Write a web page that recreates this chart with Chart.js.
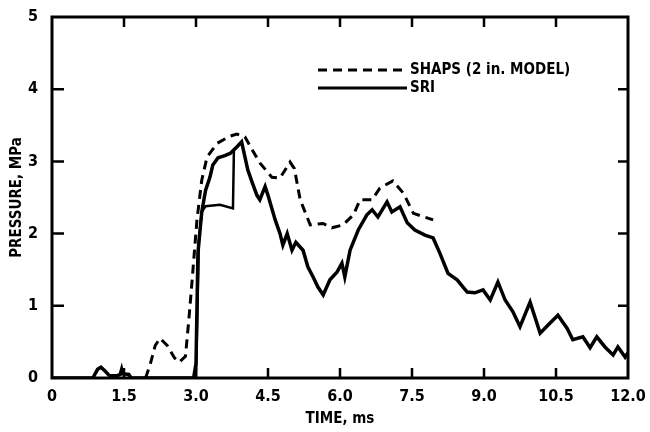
<!DOCTYPE html>
<html lang="en">
<head>
  <meta charset="UTF-8" />
  <title>Pressure vs Time</title>
  <script src="https://cdn.jsdelivr.net/npm/chart.js"></script>
  <style>
    html, body { margin: 0; padding: 0; background: #fff; }
    #wrap { width: 650px; height: 432px; position: relative; }
  </style>
</head>
<body>
  <div id="wrap"><canvas id="chart"></canvas></div>

  <script>
    // x ticks (ms) and y ticks (MPa)
    const timeTicks = [0, 1.5, 3.0, 4.5, 6.0, 7.5, 9.0, 10.5, 12.0];
    const pressureTicks = [0, 1, 2, 3, 4, 5];

    // SHAPS (2 in. model) - dashed
    const shapsTime = [1.95, 2.05, 2.15, 2.25, 2.4, 2.55, 2.65, 2.78, 2.85, 2.92, 3.02, 3.12, 3.23, 3.44, 3.71, 3.85, 4.02, 4.17, 4.33, 4.58, 4.75, 4.96, 5.05, 5.17, 5.38, 5.65, 5.83, 6.06, 6.28, 6.42, 6.67, 6.83, 7.1, 7.32, 7.53, 7.94];
    const shapsPressure = [0, 0.2, 0.45, 0.55, 0.45, 0.28, 0.22, 0.3, 0.8, 1.36, 2.19, 2.74, 3.06, 3.25, 3.35, 3.38, 3.34, 3.16, 2.98, 2.78, 2.77, 2.99, 2.9, 2.47, 2.12, 2.14, 2.08, 2.12, 2.26, 2.47, 2.47, 2.63, 2.73, 2.56, 2.28, 2.19];

    // SRI - solid
    const sriTime = [0, 0.85, 0.95, 1.02, 1.1, 1.2, 1.35, 1.42, 1.45, 1.47, 1.6, 1.65, 2.95, 3.0, 3.04, 3.12, 3.2, 3.29, 3.35, 3.46, 3.6, 3.71, 3.85, 3.95, 4.08, 4.17, 4.27, 4.33, 4.44, 4.5, 4.65, 4.75, 4.81, 4.9, 5.0, 5.08, 5.23, 5.33, 5.44, 5.54, 5.65, 5.79, 5.94, 6.04, 6.1, 6.21, 6.38, 6.56, 6.67, 6.79, 6.98, 7.08, 7.25, 7.4, 7.56, 7.77, 7.94, 8.08, 8.25, 8.44, 8.65, 8.81, 8.98, 9.13, 9.29, 9.44, 9.6, 9.75, 9.96, 10.17, 10.33, 10.54, 10.73, 10.85, 11.06, 11.21, 11.35, 11.52, 11.69, 11.79, 11.94, 12.0];
    const sriPressure = [0, 0, 0.12, 0.15, 0.1, 0.03, 0.03, 0.05, 0.12, 0.06, 0.05, 0, 0, 0.2, 1.73, 2.3, 2.6, 2.78, 2.95, 3.05, 3.08, 3.11, 3.2, 3.27, 2.88, 2.71, 2.53, 2.47, 2.65, 2.53, 2.19, 2.0, 1.84, 2.0, 1.77, 1.88, 1.77, 1.54, 1.4, 1.26, 1.15, 1.36, 1.47, 1.59, 1.4, 1.77, 2.05, 2.26, 2.33, 2.23, 2.44, 2.3, 2.37, 2.15, 2.05, 1.98, 1.94, 1.73, 1.45, 1.36, 1.19, 1.18, 1.22, 1.08, 1.33, 1.08, 0.92, 0.71, 1.05, 0.62, 0.73, 0.87, 0.69, 0.53, 0.57, 0.42, 0.57, 0.43, 0.32, 0.43, 0.29, 0.35];

    // second SRI trace (lower branch near the rise)
    const sri2Time = [3.0, 3.06, 3.12, 3.2, 3.5, 3.77, 3.79, 3.95];
    const sri2Pressure = [0, 1.9, 2.3, 2.38, 2.4, 2.35, 3.16, 3.27];

    const toPoints = (xs, ys) => xs.map((x, i) => ({ x: x, y: ys[i] }));

    const FONT = '"DejaVu Sans Condensed", "DejaVu Sans", sans-serif';

    // box + inward ticks
    const framePlugin = {
      id: 'frame',
      afterDatasetsDraw(chart) {
        const { ctx, chartArea: a, scales } = chart;
        ctx.save();
        ctx.strokeStyle = '#000';
        ctx.lineWidth = 3;
        ctx.strokeRect(a.left, a.top, a.right - a.left, a.bottom - a.top);
        ctx.lineWidth = 2.5;
        ctx.beginPath();
        timeTicks.slice(1, -1).forEach(t => {
          const x = scales.x.getPixelForValue(t);
          ctx.moveTo(x, a.bottom); ctx.lineTo(x, a.bottom - 10);
          ctx.moveTo(x, a.top); ctx.lineTo(x, a.top + 10);
        });
        pressureTicks.slice(1, -1).forEach(p => {
          const y = scales.y.getPixelForValue(p);
          ctx.moveTo(a.left, y); ctx.lineTo(a.left + 12, y);
          ctx.moveTo(a.right, y); ctx.lineTo(a.right - 10, y);
        });
        ctx.stroke();

        // legend
        const items = chart.data.datasets.filter(d => !d.hideLegend);
        const x0 = a.left + 266, x1 = a.left + 355;
        ctx.font = 'bold 15px ' + FONT;
        ctx.fillStyle = '#000';
        ctx.textBaseline = 'middle';
        items.forEach((d, i) => {
          const y = a.top + 53 + i * 18;
          ctx.lineWidth = 3;
          ctx.setLineDash(d.borderDash || []);
          ctx.beginPath();
          ctx.moveTo(x0, y); ctx.lineTo(x1, y);
          ctx.stroke();
          ctx.setLineDash([]);
          ctx.fillText(d.label, x1 + 3, y);
        });
        ctx.restore();
      }
    };

    new Chart(document.getElementById('chart'), {
      type: 'scatter',
      data: {
        datasets: [
          {
            label: 'SHAPS (2 in. MODEL)',
            data: toPoints(shapsTime, shapsPressure),
            showLine: true,
            borderColor: '#000',
            borderWidth: 3,
            borderDash: [9, 6],
            pointRadius: 0,
            tension: 0
          },
          {
            label: 'SRI',
            data: toPoints(sriTime, sriPressure),
            showLine: true,
            borderColor: '#000',
            borderWidth: 3.5,
            pointRadius: 0,
            tension: 0
          },
          {
            label: 'SRI',
            hideLegend: true,
            data: toPoints(sri2Time, sri2Pressure),
            showLine: true,
            borderColor: '#000',
            borderWidth: 2.5,
            pointRadius: 0,
            tension: 0
          }
        ]
      },
      options: {
        responsive: true,
        maintainAspectRatio: false,
        animation: false,
        layout: { padding: { top: 17, right: 22, left: 0, bottom: 0 } },
        plugins: { legend: { display: false }, tooltip: { enabled: false } },
        scales: {
          x: {
            type: 'linear',
            min: 0,
            max: 12,
            afterBuildTicks: s => { s.ticks = timeTicks.map(v => ({ value: v })); },
            afterFit: s => { s.height = 54; },
            grid: { display: false },
            border: { display: false },
            ticks: {
              color: '#000',
              padding: 1,
              maxRotation: 0,
              font: { family: FONT, size: 16, weight: 'bold' },
              callback: v => v === 0 ? '0' : v.toFixed(1)
            },
            title: {
              display: true,
              text: 'TIME, ms',
              color: '#000',
              padding: { top: 0 },
              font: { family: FONT, size: 15, weight: 'bold' }
            }
          },
          y: {
            min: 0,
            max: 5,
            afterBuildTicks: s => { s.ticks = pressureTicks.map(v => ({ value: v })); },
            afterFit: s => { s.width = 52; },
            grid: { display: false },
            border: { display: false },
            ticks: {
              color: '#000',
              padding: 6,
              font: { family: FONT, size: 16, weight: 'bold' }
            },
            title: {
              display: true,
              text: 'PRESSURE, MPa',
              color: '#000',
              padding: { top: 8, bottom: 2 },
              font: { family: FONT, size: 15, weight: 'bold' }
            }
          }
        }
      },
      plugins: [framePlugin]
    });
  </script>
</body>
</html>
